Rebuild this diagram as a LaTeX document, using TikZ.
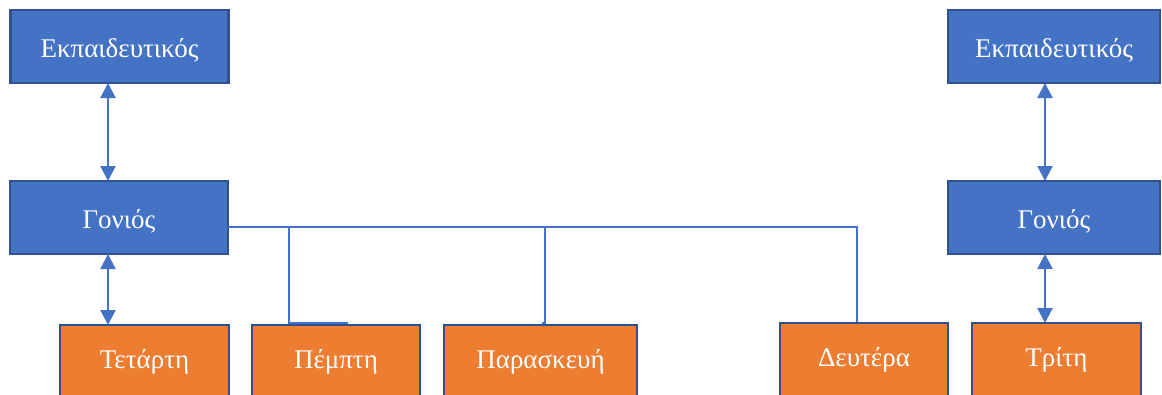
\documentclass[tikz,border=0pt]{standalone}
\usepackage{fontspec}
\setmainfont{Liberation Serif}
\usetikzlibrary{arrows.meta}
\definecolor{boxblue}{HTML}{4472C4}
\definecolor{boxorange}{HTML}{ED7D31}
\definecolor{boxedge}{HTML}{2F528F}
\definecolor{linkblue}{HTML}{4472C4}
\tikzset{
  card/.style={draw=boxedge, line width=2.2pt, inner sep=0pt, outer sep=0pt,
    minimum height=73pt, text=white, font=\fontsize{27}{32}\selectfont,
    text depth=0pt},
  rolebox/.style={card, fill=boxblue, text height=21pt},
  daybox/.style={card, fill=boxorange, text height=14pt},
  link/.style={draw=linkblue, line width=2.2pt},
  twoway/.style={link, {Triangle[width=15pt,length=15pt]}-{Triangle[width=15pt,length=15pt]}}
}
\begin{document}
\begin{tikzpicture}[x=1pt,y=-1pt]
\useasboundingbox (0,0) rectangle (1162,394);
\clip (0,0) rectangle (1162,394);

% left hierarchy
\node[rolebox, minimum width=218pt] (E1) at (119.5,46.5) {Εκπαιδευτικός};
\node[rolebox, minimum width=218pt] (G1) at (119,217.5) {Γονιός};

% right hierarchy
\node[rolebox, minimum width=212pt] (E2) at (1054,46.5) {Εκπαιδευτικός};
\node[rolebox, minimum width=212pt] (G2) at (1054,217.5) {Γονιός};

% days of the week
\node[daybox, minimum width=169pt] (Te) at (144.5,361.5) {Τετάρτη};
\node[daybox, minimum width=168pt] (Pe) at (336,361.5) {Πέμπτη};
\node[daybox, minimum width=193pt] (Pa) at (540.5,361.5) {Παρασκευή};
\node[daybox, minimum width=168pt] (De) at (864,359.5) {Δευτέρα};
\node[daybox, minimum width=169pt] (Tr) at (1056.5,359.5) {Τρίτη};

% connector columns and the horizontal bus
\coordinate (cA) at (108,0);
\coordinate (cB) at (1045,0);
\coordinate (cP) at (289,0);
\coordinate (cPe) at (348,0);
\coordinate (cQ) at (545,0);
\coordinate (cQe) at (542,0);
\coordinate (cD) at (857,0);
\coordinate (bus) at (0,227);

% two-way links
\draw[twoway] (E1.south -| cA) -- (G1.north -| cA);
\draw[twoway] (G1.south -| cA) -- (Te.north -| cA);
\draw[twoway] (E2.south -| cB) -- (G2.north -| cB);
\draw[twoway] (G2.south -| cB) -- (Tr.north -| cB);

% bus from the parent to the other days
\draw[link] (G1.east |- bus) -- (bus -| cD) -- ([yshift=1pt]De.north -| cD);
\draw[link] (bus -| cP) -- ([yshift=2pt]Pe.north -| cP) -- ([yshift=2pt]Pe.north -| cPe);
\draw[link] (bus -| cQ) -- ([yshift=2pt]Pa.north -| cQ) -- ([yshift=2pt]Pa.north -| cQe);
\end{tikzpicture}
\end{document}
